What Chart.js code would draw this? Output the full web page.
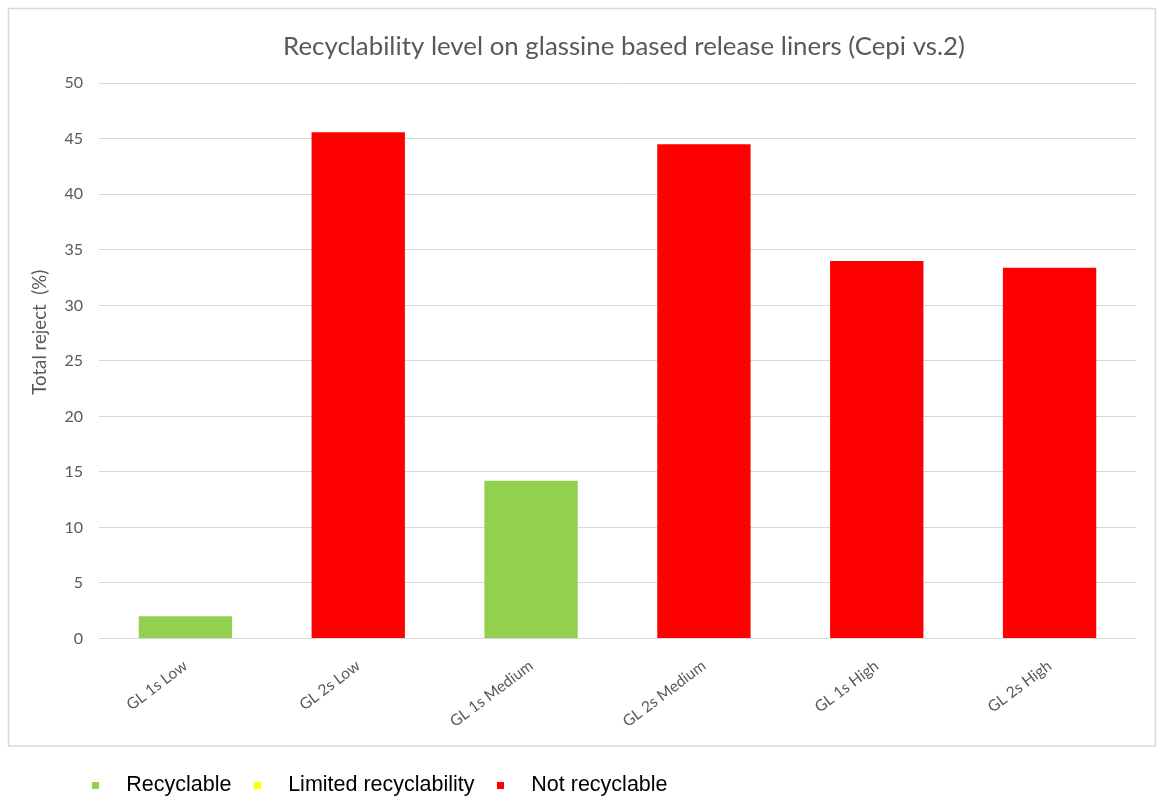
<!DOCTYPE html>
<html><head><meta charset="utf-8">
<script src="https://cdn.jsdelivr.net/npm/chart.js@4.4.1/dist/chart.umd.min.js"></script>
<style>html,body{margin:0;padding:0;background:#fff;}canvas{display:block;}</style>
</head><body>
<canvas id="c" width="1157" height="798"></canvas>
<script>
// ---- data ----
const categories = ['GL 1s Low', 'GL 2s Low', 'GL 1s Medium', 'GL 2s Medium', 'GL 1s High', 'GL 2s High'];
const seriesNames = ['Recyclable', 'Limited recyclability', 'Not recyclable'];
const recyclable = [2.0, null, 14.2, null, null, null];
const limitedRecyclability = [null, null, null, null, null, null];
const notRecyclable = [null, 45.6, null, 44.5, 34.0, 33.4];
const yTickValues = [0, 5, 10, 15, 20, 25, 30, 35, 40, 45, 50];
const chartTitle = 'Recyclability level on glassine based release liners (Cepi vs.2)';
const yAxisTitle = 'Total reject  (%)';

// ---- styling ----
const colors = ['#92d050', '#ffff00', '#ff0000'];
const gray = '#595959';
const gridColor = '#d9d9d9';
const family = 'Lato, "Open Sans", sans-serif';

function fitSize(text, fam, target, base) {
  const ctx = document.createElement('canvas').getContext('2d');
  ctx.font = base + 'px ' + fam;
  return base * target / ctx.measureText(text).width;
}
const titleSize = fitSize(chartTitle, family, 682, 22);
const yTitleSize = fitSize(yAxisTitle, family, 125, 16);

function marker(color) {
  const c = document.createElement('canvas');
  c.width = 7; c.height = 7;
  const g = c.getContext('2d');
  g.fillStyle = color; g.fillRect(0, 0, 7, 7);
  return c;
}
const markers = colors.map(marker);

const frame = {
  id: 'frame',
  beforeDraw(chart) {
    const ctx = chart.ctx;
    ctx.save();
    ctx.fillStyle = '#fff';
    ctx.fillRect(0, 0, chart.width, chart.height);
    ctx.strokeStyle = gridColor;
    ctx.lineWidth = 1.5;
    ctx.strokeRect(8.5, 8.5, 1147, 737.5);
    ctx.restore();
  },
  afterLayout(chart) {
    if (chart.titleBlock) { chart.titleBlock.left = 112; chart.titleBlock.right = 1136; }
    if (chart.legend) { chart.legend.left = 69.5; }
  }
};

const datasets = [recyclable, limitedRecyclability, notRecyclable].map((d, i) => ({
  label: seriesNames[i],
  data: d,
  backgroundColor: colors[i],
  borderWidth: 0,
  categoryPercentage: 1,
  barPercentage: 0.54
}));

const yTitleSpaces = ' '.repeat(12);

new Chart(document.getElementById('c'), {
  type: 'bar',
  data: { labels: categories, datasets },
  options: {
    responsive: false,
    animation: false,
    devicePixelRatio: 1,
    layout: { padding: { left: 0, right: 21, top: 0, bottom: 0 } },
    plugins: {
      title: {
        display: true,
        text: chartTitle,
        color: gray,
        font: { family, size: titleSize, weight: 'normal', lineHeight: 1.2 },
        padding: { top: 31.5, bottom: 83.3 - 31.5 - titleSize * 1.2 }
      },
      legend: {
        display: true,
        position: 'bottom',
        align: 'start',
        maxHeight: 29.75,
        labels: {
          color: '#000',
          font: { family: '"Liberation Sans", Arial, sans-serif', size: 21.5 },
          usePointStyle: true,
          pointStyleWidth: 40,
          padding: 6,
          generateLabels(chart) {
            const items = Chart.defaults.plugins.legend.labels.generateLabels(chart);
            items.forEach((it, i) => { it.pointStyle = markers[i]; it.hidden = false; });
            return items;
          }
        }
      },
      tooltip: { enabled: false }
    },
    scales: {
      x: {
        stacked: true,
        grid: { display: false },
        border: { display: false },
        ticks: {
          color: gray,
          font: { family, size: 15.5 },
          minRotation: 37,
          maxRotation: 37,
          padding: 10,
          autoSkip: false
        },
        afterFit(s) { s.height = 129.75; }
      },
      y: {
        stacked: true,
        min: yTickValues[0],
        max: yTickValues[yTickValues.length - 1],
        grid: { color: gridColor, lineWidth: 1, drawTicks: false },
        border: { display: false },
        ticks: {
          stepSize: yTickValues[1] - yTickValues[0],
          color: gray,
          font: { family, size: 16 },
          padding: 16
        },
        title: {
          display: true,
          text: yTitleSpaces + yAxisTitle,
          color: gray,
          font: { family, size: yTitleSize, lineHeight: 1.2 },
          padding: { top: 39.5 - yTitleSize * 0.6, bottom: 0 }
        },
        afterFit(s) { s.width = 99; }
      }
    }
  },
  plugins: [frame]
});
</script>
</body></html>
